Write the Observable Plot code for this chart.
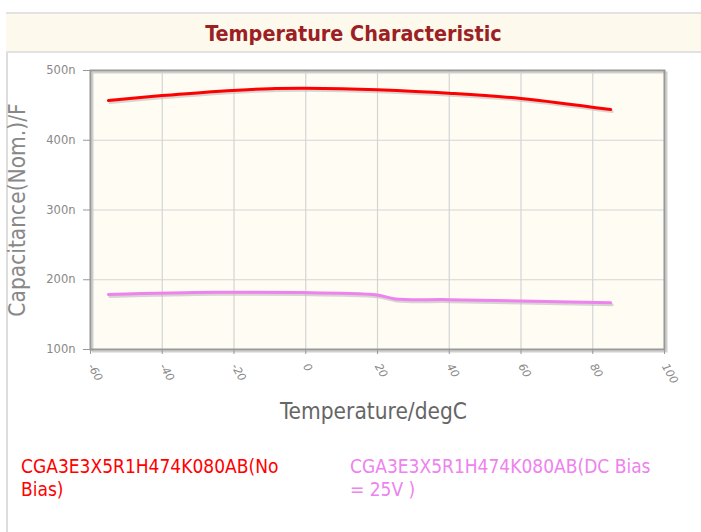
<!DOCTYPE html>
<html>
<head>
<meta charset="utf-8">
<script src="https://cdn.jsdelivr.net/npm/d3@7"></script>
<script src="https://cdn.jsdelivr.net/npm/@observablehq/plot@0.6"></script>
<style>
  html, body { margin: 0; padding: 0; background: #fff; width: 701px; height: 532px; overflow: hidden; position: relative; font-family: "DejaVu Sans", sans-serif; }
  #frame { position: absolute; left: 6px; top: 12px; width: 695px; height: 520px; border-left: 2px solid #ddd; box-sizing: border-box; }
  #header { position: absolute; left: 6px; top: 12px; width: 695px; height: 41px; background: #fdf9ec; border-top: 2px solid #e2e2e2; border-bottom: 2px solid #e2e2e2; box-sizing: border-box; text-align: center; }
  #title { font-family: "DejaVu Sans Condensed", "DejaVu Sans", sans-serif; font-weight: bold; font-size: 21.4px; color: #9b1f24; line-height: 39px; }
  #chart { position: absolute; left: 0; top: 53px; }
  .leg { position: absolute; top: 455px; font-family: "DejaVu Sans Condensed", "DejaVu Sans", sans-serif; font-size: 19px; line-height: 23px; }
</style>
</head>
<body>
<div id="frame"></div>
<div id="header"><span id="title">Temperature Characteristic</span></div>
<div id="chart"></div>
<div class="leg" id="leg1" style="left:21px; width:285px; color:#ff0000;"></div>
<div class="leg" id="leg2" style="left:350px; width:320px; color:#ee82ee;"></div>
<script>
const seriesNames = ["CGA3E3X5R1H474K080AB(No Bias)", "CGA3E3X5R1H474K080AB(DC Bias = 25V )"];
const seriesColors = ["#ff0000", "#ee82ee"];
const tempNoBias = [-55, -40, -25, -10, 0, 10, 20, 40, 60, 85];
const capNoBias = [457, 464, 470, 474, 474.5, 474, 472.5, 467.5, 460, 444];
const tempDcBias = [-55, -25, 10, 20, 25, 40, 60, 85];
const capDcBias = [179, 182, 180.5, 178, 172.5, 171.5, 169.5, 167];
const xTicks = [-60, -40, -20, 0, 20, 40, 60, 80, 100];
const yTicks = [100, 200, 300, 400, 500];
const xLabel = "Temperature/degC";
const yLabel = "Capacitance(Nom.)/F";

const noBias = tempNoBias.map((t, i) => ({t, c: capNoBias[i]}));
const dcBias = tempDcBias.map((t, i) => ({t, c: capDcBias[i]}));

const plot = Plot.plot({
  width: 701,
  height: 380,
  marginLeft: 90,
  marginRight: 37,
  marginTop: 17,
  marginBottom: 84,
  style: { fontFamily: "DejaVu Sans, sans-serif", background: "transparent", overflow: "visible" },
  x: { domain: [-60, 100] },
  y: { domain: [100, 500] },
  marks: [
    Plot.frame({ fill: "#fffcf3", stroke: "none" }),
    Plot.gridX(xTicks, { stroke: "#d4d4d4", strokeOpacity: 1, strokeWidth: 1.2 }),
    Plot.gridY(yTicks, { stroke: "#d4d4d4", strokeOpacity: 1, strokeWidth: 1.2 }),
    Plot.frame({ stroke: "#cfcfcf", strokeWidth: 2, dx: 2, dy: 2 }),
    Plot.frame({ stroke: "#999", strokeWidth: 2 }),
    Plot.axisX(xTicks, { tickFormat: d => String(d), tickRotate: 60, tickSize: 5, tickPadding: 10, fontSize: 11, fill: "#888", stroke: "#999", label: null, fontStyle: "italic" }),
    Plot.axisY(yTicks, { tickFormat: d => d + "n", tickSize: 7, tickPadding: 8, fontSize: 11.5, fill: "#888", stroke: "#999", label: null }),
    Plot.line(noBias, { x: "t", y: "c", stroke: "#bbb", strokeOpacity: 0.6, strokeWidth: 3, dx: 1.5, dy: 2, curve: "catmull-rom" }),
    Plot.line(dcBias, { x: "t", y: "c", stroke: "#bbb", strokeOpacity: 0.6, strokeWidth: 3, dx: 1.5, dy: 2, curve: "catmull-rom" }),
    Plot.line(noBias, { x: "t", y: "c", stroke: seriesColors[0], strokeWidth: 3, curve: "catmull-rom" }),
    Plot.line(dcBias, { x: "t", y: "c", stroke: seriesColors[1], strokeWidth: 3, curve: "catmull-rom" }),
    Plot.text([yLabel], { frameAnchor: "left", textAnchor: "middle", dx: -73, rotate: -90, fontSize: 22.5, fill: "#888", fontFamily: "DejaVu Sans Condensed, DejaVu Sans, sans-serif" }),
    Plot.text([xLabel], { frameAnchor: "bottom", textAnchor: "middle", dy: 69, dx: -4, fontSize: 22.5, fill: "#666", fontFamily: "DejaVu Sans Condensed, DejaVu Sans, sans-serif" })
  ]
});
document.getElementById("chart").appendChild(plot);
document.getElementById("leg1").textContent = seriesNames[0];
document.getElementById("leg2").textContent = seriesNames[1];
</script>
</body>
</html>
